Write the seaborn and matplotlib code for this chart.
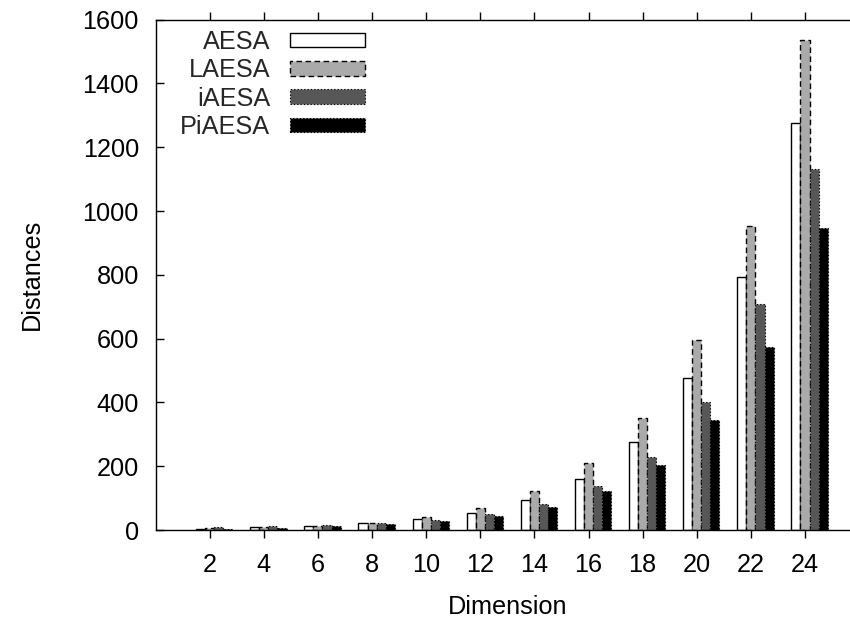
import matplotlib
matplotlib.use("Agg")
import matplotlib.pyplot as plt
import seaborn as sns
import pandas as pd

dimensions = ["2", "4", "6", "8", "10", "12", "14", "16", "18", "20", "22", "24"]
aesa = [4, 8, 12, 21, 34, 53, 93, 159, 275, 477, 793, 1275]
laesa = [5, 8, 13, 23, 41, 70, 122, 211, 350, 595, 953, 1536]
iaesa = [8, 11, 16, 23, 32, 50, 82, 138, 230, 400, 708, 1131]
piaesa = [3, 6, 12, 19, 28, 44, 73, 122, 204, 345, 574, 946]
series_names = ["AESA", "LAESA", "iAESA", "PiAESA"]
yticks = [0, 200, 400, 600, 800, 1000, 1200, 1400, 1600]

rows = []
for name, vals in zip(series_names, [aesa, laesa, iaesa, piaesa]):
    for d, v in zip(dimensions, vals):
        rows.append({"Dimension": d, "Distances": v, "Algorithm": name})
df = pd.DataFrame(rows)

sns.set_theme(style="white")
plt.rcParams["font.family"] = ["Liberation Sans", "DejaVu Sans"]
FS = 18.2

fig = plt.figure(figsize=(8.5, 6.23), dpi=100)
W, H = 850, 623
ax = fig.add_axes([155.6 / W, 93 / H, (859.1 - 155.6) / W, (530 - 19.7) / H])

fills = ["#ffffff", "#aaaaaa", "#575757", "#000000"]
styles = ["solid", (0, (4, 2.5)), (0, (1.2, 1.8)), (0, (1.2, 1.8))]
widths = [1.0, 1.0, 0.8, 0.8]

sns.barplot(data=df, x="Dimension", y="Distances", hue="Algorithm",
            hue_order=series_names, order=dimensions, palette=fills,
            width=0.672, saturation=1, legend=False, ax=ax)

for cont, ls, lw in zip(ax.containers, styles, widths):
    for p in cont.patches:
        p.set_edgecolor("black")
        p.set_linewidth(lw)
        p.set_linestyle(ls)

off = 0.084
ax.set_xticks([i - off for i in range(len(dimensions))])
ax.set_xticklabels(dimensions)
ax.set_xlim(-1 - off, 12 - off)
ax.set_ylim(0, 1600)
ax.set_yticks(yticks)

for s in ax.spines.values():
    s.set_color("black")
    s.set_linewidth(1.0)

ax.tick_params(axis="x", direction="out", top=True, bottom=True, length=5.8,
               width=1.0, color="black", labelsize=FS, pad=11, labelcolor="black")
ax.tick_params(axis="y", direction="in", left=True, right=True, length=5.8,
               width=1.0, color="black", labelsize=FS, pad=12, labelcolor="black")

ax.set_xlabel("Dimension", fontsize=FS, color="black", labelpad=12.5)
ax.set_ylabel("Distances", fontsize=FS, color="black", labelpad=28)

handles = [c.patches[0] for c in ax.containers]
leg = ax.legend(handles, series_names, loc="upper right",
                bbox_to_anchor=(365 / W, (H - 30) / H),
                bbox_transform=fig.transFigure, frameon=False,
                markerfirst=False, fontsize=FS, handlelength=75 / 25.3,
                handleheight=13 / 25.3, handletextpad=20 / 25.3,
                labelspacing=0.17, borderpad=0, borderaxespad=0)

fig.savefig("out.png", dpi=100)
